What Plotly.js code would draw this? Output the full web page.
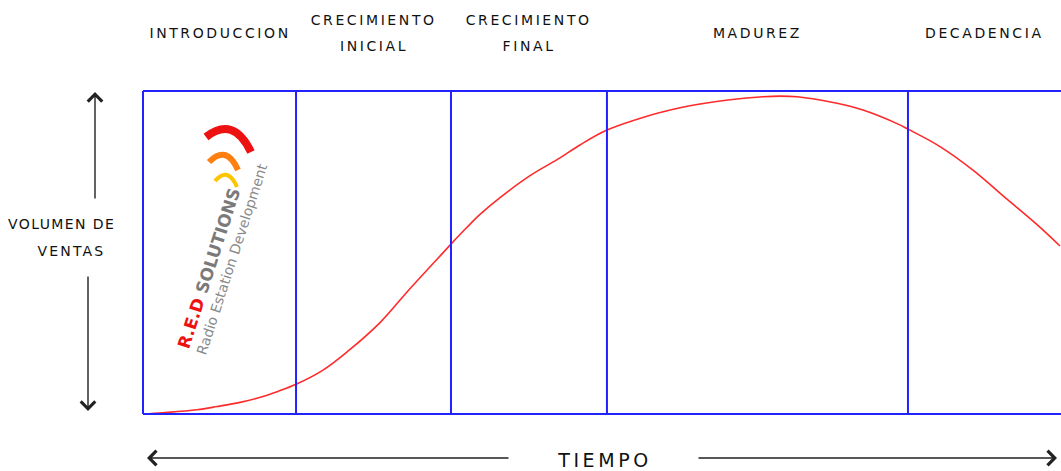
<!DOCTYPE html>
<html>
<head>
<meta charset="utf-8">
<script src="https://cdn.plot.ly/plotly-3.0.1.min.js"></script>
<style>html,body{margin:0;padding:0;background:#fff;}</style>
</head>
<body>
<div id="chart" style="width:1061px;height:471px;"></div>
<script>
// ---- data ----
const stageNames = ['INTRODUCCION', 'CRECIMIENTO\nINICIAL', 'CRECIMIENTO\nFINAL', 'MADUREZ', 'DECADENCIA'];
const stageBounds = [0, 16.67, 33.55, 50.54, 83.33, 100];
const timeX = [0, 2.18, 5.88, 8.06, 10.57, 13.07, 14.60, 16.67, 19.61, 22.22, 25.82, 28.76, 30.17, 32.03, 33.55, 35.29, 36.71, 38.89, 42.16, 45.42, 47.60, 50.54, 54.90, 58.50, 60.68, 63.94, 67.54, 69.39, 71.24, 73.75, 75.60, 78.43, 82.14, 83.33, 86.82, 90.41, 94.12, 97.39, 99.89];
const salesY = [0, 0.4, 1.3, 2.3, 3.6, 5.4, 6.9, 9.2, 13.6, 19.2, 28.3, 37.8, 42.2, 47.9, 52.6, 57.8, 61.8, 67.0, 73.8, 79.3, 83.3, 87.9, 92.2, 94.8, 96.0, 97.3, 98.2, 98.4, 98.2, 97.2, 96.2, 94.1, 89.9, 88.2, 82.8, 75.5, 66.5, 58.6, 52.0];
const yLabelLines = ['VOLUMEN DE', 'VENTAS'];
const xLabel = 'TIEMPO';
const logoTitle = "<b><span style='color:#ee1111'>R.E.D</span> <span style='color:#7a7a7a'>SOLUTIONS</span></b>";
const logoSub = 'Radio Estation Development';

// ---- geometry helpers (pixel -> paper) ----
const L = 143, T = 91, B = 57, W = 1061, H = 471;
const PW = W - L, PH = H - T - B;
const px = x => (x - L) / PW;
const py = y => (H - B - y) / PH;

const blue = '#2222ff';
const shapes = [];
shapes.push({type:'line', xref:'paper', yref:'paper', x0:0, x1:1, y0:0, y1:0, line:{color:blue, width:2}});
shapes.push({type:'line', xref:'paper', yref:'paper', x0:0, x1:1, y0:1, y1:1, line:{color:blue, width:2}});
shapes.push({type:'line', xref:'paper', yref:'paper', x0:0, x1:0, y0:0, y1:1, line:{color:blue, width:2}});
stageBounds.slice(1, -1).forEach(b => {
  shapes.push({type:'line', xref:'x', yref:'paper', x0:b, x1:b, y0:0, y1:1, line:{color:blue, width:2}});
});
function arc(p0, mid, p2, color, w) {
  const c = [2*mid[0] - (p0[0]+p2[0])/2, 2*mid[1] - (p0[1]+p2[1])/2];
  return {type:'path', xref:'paper', yref:'paper',
    path: `M${px(p0[0])},${py(p0[1])} Q${px(c[0])},${py(c[1])} ${px(p2[0])},${py(p2[1])}`,
    line:{color:color, width:w}};
}
shapes.push(arc([206,137],[231,130],[251,152],'#ee1111',8));
shapes.push(arc([209,162],[225,155],[238,170],'#ff7f11',6));
shapes.push(arc([215,181],[227,175],[237,187],'#ffc400',4));

const annotations = [];
const labelFont = {family:'DejaVu Sans', size:14, color:'#111'};
stageNames.forEach((name, i) => {
  const cx = (stageBounds[i] + stageBounds[i+1]) / 2;
  const lines = name.split('\n');
  lines.forEach((ln, j) => {
    const yPix = 33 + (j - (lines.length - 1) / 2) * 27;
    annotations.push({text: ln, xref:'x', yref:'paper', x: cx, y: py(yPix),
      showarrow:false, xanchor:'center', yanchor:'middle', font: labelFont, _ls: '2.6px'});
  });
});
annotations.push({text: yLabelLines[0], xref:'paper', yref:'paper', x: px(61), y: py(224), showarrow:false, xanchor:'center', yanchor:'middle', font: labelFont, _ls:'1.4px'});
annotations.push({text: yLabelLines[1], xref:'paper', yref:'paper', x: px(71), y: py(251), showarrow:false, xanchor:'center', yanchor:'middle', font: labelFont, _ls:'2.2px'});
annotations.push({text: xLabel, xref:'paper', yref:'paper', x: px(604), y: py(460), showarrow:false, xanchor:'center', yanchor:'middle', font:{family:'DejaVu Sans', size:19, color:'#111'}, _ls:'3.6px'});
const arrowStyle = {showarrow:true, arrowhead:4, arrowsize:2, arrowwidth:1.4, arrowcolor:'#222', text:'', xref:'paper', yref:'paper', axref:'pixel', ayref:'pixel'};
annotations.push(Object.assign({}, arrowStyle, {x: px(95), y: py(92), ax: 0, ay: 108}));
annotations.push(Object.assign({}, arrowStyle, {x: px(88), y: py(411), ax: 0, ay: -136}));
annotations.push(Object.assign({}, arrowStyle, {x: px(147), y: py(458), ax: 363, ay: 0}));
annotations.push(Object.assign({}, arrowStyle, {x: px(1057), y: py(458), ax: -360, ay: 0}));
annotations.push({text: logoTitle, xref:'paper', yref:'paper', x: px(209), y: py(268), xanchor:'center', yanchor:'middle', showarrow:false, textangle:-72, font:{family:'DejaVu Sans', size:17, color:'#7a7a7a'}});
annotations.push({text: logoSub, xref:'paper', yref:'paper', x: px(232), y: py(259), xanchor:'center', yanchor:'middle', showarrow:false, textangle:-72, font:{family:'DejaVu Sans', size:14, color:'#8a8a8a'}});

const lsFlags = annotations.map(a => a._ls || null);
annotations.forEach(a => { delete a._ls; });

const trace = {x: timeX, y: salesY, type:'scatter', mode:'lines', line:{color:'#ff2a2a', width:1.6, shape:'spline', smoothing:1}, hoverinfo:'skip'};

const layout = {
  width: W, height: H,
  margin: {l: L, r: 0, t: T, b: B, pad: 0},
  paper_bgcolor:'#fff', plot_bgcolor:'#fff',
  showlegend:false,
  xaxis:{range:[0,100], visible:false, fixedrange:true},
  yaxis:{range:[0,100], visible:false, fixedrange:true},
  shapes: shapes,
  annotations: annotations
};

Plotly.newPlot('chart', [trace], layout, {displayModeBar:false, staticPlot:true}).then(gd => {
  gd.querySelectorAll('g.annotation').forEach(g => {
    const f = lsFlags[+g.getAttribute('data-index')];
    if (f) {
      const t = g.querySelector('text.annotation-text');
      if (t) t.style.letterSpacing = f;
    }
  });
});
</script>
</body>
</html>
